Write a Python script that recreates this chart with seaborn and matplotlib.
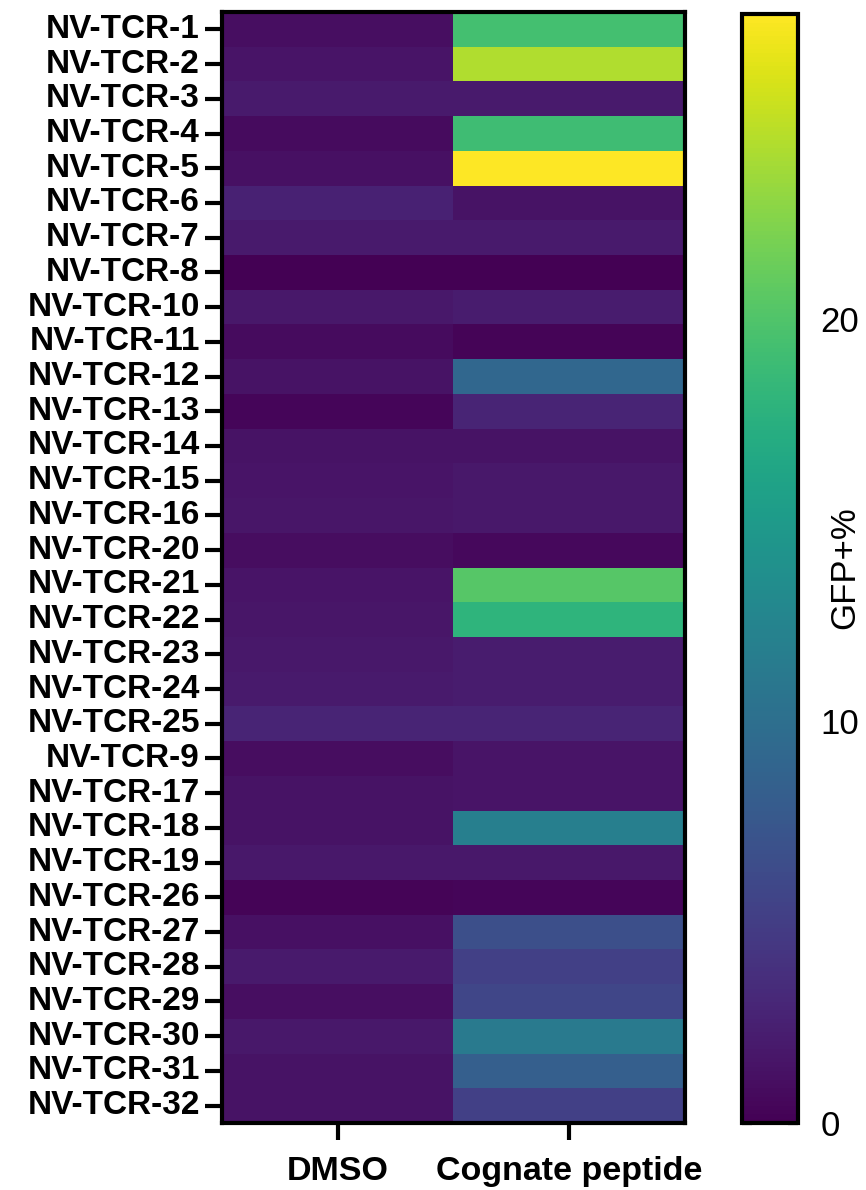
import numpy as np
import pandas as pd
import matplotlib
matplotlib.use("Agg")
import matplotlib.pyplot as plt
import seaborn as sns

sns.set_theme(style="white")
plt.rcParams['font.family'] = ['Liberation Sans', 'DejaVu Sans']
plt.rcParams['text.color'] = 'black'
plt.rcParams['xtick.color'] = 'black'
plt.rcParams['ytick.color'] = 'black'

# data (GFP+ %)
tcr_ids = [1, 2, 3, 4, 5, 6, 7, 8, 10, 11, 12, 13, 14, 15, 16, 20, 21, 22,
           23, 24, 25, 9, 17, 18, 19, 26, 27, 28, 29, 30, 31, 32]
tcr_labels = ["NV-TCR-%d" % i for i in tcr_ids]
conditions = ["DMSO", "Cognate peptide"]

dmso = [1.0, 1.5, 1.9, 0.8, 1.1, 2.5, 1.9, 0.05, 1.8, 0.8, 1.4, 0.4, 1.4, 1.5,
        1.6, 0.9, 1.5, 1.6, 1.8, 1.9, 2.8, 0.9, 1.3, 1.3, 1.8, 0.3, 1.1, 1.9,
        1.0, 1.8, 1.4, 1.4]
cognate = [19.3, 24.3, 1.9, 19.0, 27.6, 1.4, 1.9, 0.05, 2.1, 0.3, 9.1, 2.8,
           1.4, 1.8, 1.8, 0.6, 20.3, 18.0, 2.1, 2.1, 2.8, 1.5, 1.5, 11.8, 1.8,
           0.4, 6.6, 5.2, 5.8, 11.3, 8.3, 5.2]

df = pd.DataFrame({"DMSO": dmso, "Cognate peptide": cognate}, index=tcr_labels)
df = df[conditions]

W, H = 866, 1190
fig = plt.figure(figsize=(W / 100, H / 100), dpi=100)
ax = fig.add_axes([222 / W, 1 - 1123 / H, (685 - 222) / W, (1123 - 12) / H])
cax = fig.add_axes([742 / W, 1 - 1123 / H, (798 - 742) / W, (1123 - 14) / H])

sns.heatmap(df, ax=ax, cmap="viridis", vmin=0, vmax=27.6, cbar_ax=cax,
            cbar_kws={"ticks": [0, 10, 20]})

# thick frame around heatmap
for s in ax.spines.values():
    s.set_visible(True)
    s.set_linewidth(3)
    s.set_color("black")

ax.tick_params(axis="y", left=True, length=12, width=3, pad=4)
ax.tick_params(axis="x", bottom=True, length=12, width=3, pad=12)
ax.set_yticklabels(tcr_labels, rotation=0, fontsize=24, fontweight="bold")
ax.set_xticklabels(conditions, rotation=0, fontsize=24.5, fontweight="bold")
ax.set_xlabel("")
ax.set_ylabel("")

# colorbar styling
cbar = ax.collections[0].colorbar
cbar.outline.set_linewidth(3)
cbar.outline.set_edgecolor("black")
cax.tick_params(axis="y", direction="in", left=True, right=True, length=7,
                width=3, labelsize=25, pad=16)
fig.text(845 / W, 1 - 568 / H, "GFP+%", rotation=90, fontsize=25,
         ha="center", va="center")

fig.savefig("out.png", dpi=100)
